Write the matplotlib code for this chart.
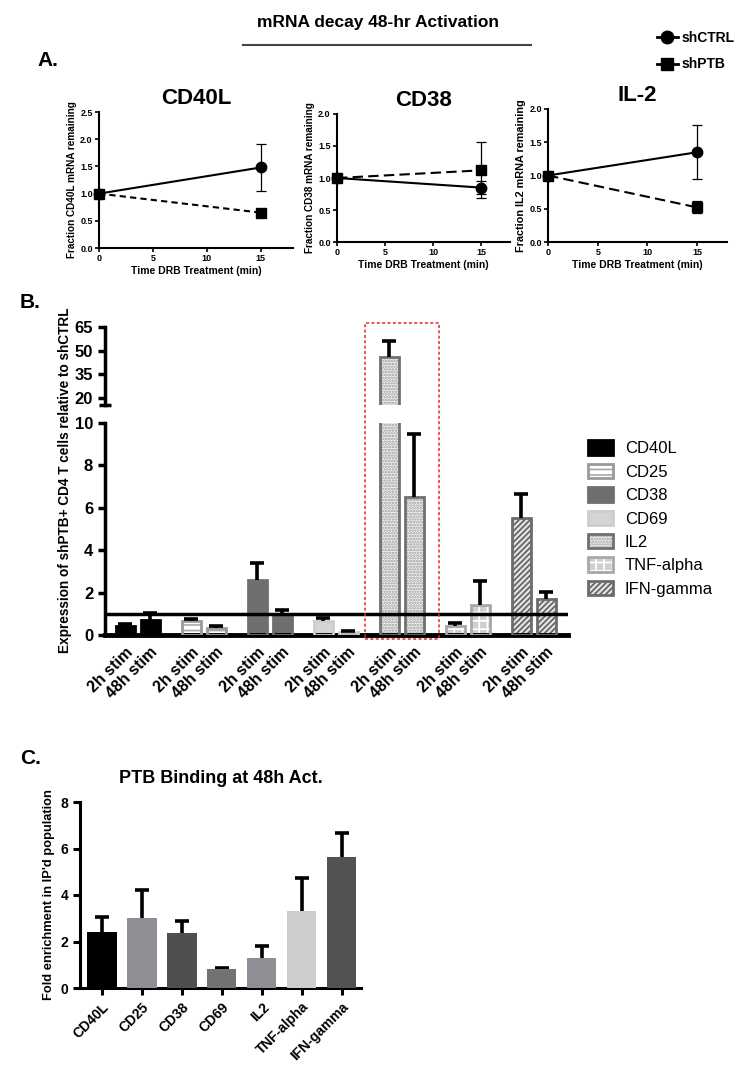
import matplotlib
matplotlib.use("Agg")
import matplotlib.pyplot as plt
from matplotlib.lines import Line2D
from matplotlib.patches import Patch, Rectangle
from matplotlib.transforms import blended_transform_factory

plt.rcParams['font.family'] = ['Liberation Sans', 'DejaVu Sans']
plt.rcParams['hatch.linewidth'] = 1.2

# ---- panel A data ----
a_time = [0, 15]
cd40l_ctrl = [1.0, 1.48]
cd40l_ctrl_err = [0.0, 0.43]
cd40l_ptb = [1.0, 0.65]
cd40l_ptb_err = [0.03, 0.06]
cd38_ctrl = [1.0, 0.85]
cd38_ctrl_err = [0.03, 0.10]
cd38_ptb = [1.0, 1.12]
cd38_ptb_err = [0.03, 0.44]
il2_ctrl = [1.0, 1.35]
il2_ctrl_err = [0.0, 0.41]
il2_ptb = [1.0, 0.52]
il2_ptb_err = [0.0, 0.09]

# ---- panel B data ----
genes = ["CD40L", "CD25", "CD38", "CD69", "IL2", "TNF-alpha", "IFN-gamma"]
stims = ["2h stim", "48h stim"]
expr_2h = [0.42, 0.66, 2.6, 0.66, 46.0, 0.42, 5.5]
expr_2h_err = [0.08, 0.09, 0.8, 0.14, 10.0, 0.15, 1.15]
expr_48h = [0.7, 0.33, 1.0, 0.15, 6.5, 1.42, 1.7]
expr_48h_err = [0.33, 0.09, 0.2, 0.05, 3.0, 1.13, 0.33]

# ---- panel C data ----
enrich = [2.42, 3.0, 2.36, 0.8, 1.3, 3.3, 5.65]
enrich_err = [0.65, 1.2, 0.52, 0.05, 0.5, 1.45, 1.03]
enrich_colors = ["#000000", "#8e8e93", "#4f4f4f", "#727272", "#8e8e95", "#cdcdcd", "#525252"]

# bar styles for B: face, hatch colour, hatch, edge
styles = [
    ("#000000", "#000000", None, "#000000"),
    ("#ffffff", "#a8a8a8", "---", "#9a9a9a"),
    ("#6f6f6f", "#6f6f6f", None, "#6f6f6f"),
    ("#d4d4d4", "#d4d4d4", None, "#cccccc"),
    ("#f2f2f2", "#9a9a9a", "......", "#707070"),
    ("#cfcfcf", "#ffffff", "++", "#a8a8a8"),
    ("#e2e2e2", "#606060", "//////", "#6c6c6c"),
]

W, H = 756, 1066


def box(x0, y0, x1, y1):
    return [x0 / W, 1 - y1 / H, (x1 - x0) / W, (y1 - y0) / H]


def up_errors(ax, xs, vals, errs, zorder):
    # only the upper half of the error bar, with a single cap
    c = ax.errorbar(xs, vals, yerr=[[0] * len(errs), errs], fmt="none", ecolor="k",
                    elinewidth=2.6, capsize=4.8, capthick=2.6, zorder=zorder)
    c[1][0].set_visible(False)
    return c


fig = plt.figure(figsize=(W / 100, H / 100), dpi=100)

# ================= Panel A =================
fig.text(378 / W, 1 - 22 / H, "mRNA decay 48-hr Activation", ha="center", va="center",
         fontsize=12.5, fontweight="bold")
fig.add_artist(Line2D([243 / W, 531 / W], [1 - 45 / H, 1 - 45 / H], color="#444444", lw=1.5))
fig.text(37 / W, 1 - 60 / H, "A.", ha="left", va="center", fontsize=15, fontweight="bold")

fig.legend(
    handles=[Line2D([], [], color="k", marker="o", ms=9, lw=2),
             Line2D([], [], color="k", marker="s", ms=8.5, lw=2)],
    labels=["shCTRL", "shPTB"], loc="upper left", bbox_to_anchor=(650 / W, 1 - 24 / H),
    frameon=False, handlelength=1.5, handletextpad=0.3, labelspacing=0.9,
    prop={"weight": "bold", "size": 10}, borderpad=0)


def decay(rect, ctrl, ctrl_err, ptb, ptb_err, title, ylabel, ymax, dash, ylab_size):
    ax = fig.add_axes(rect)
    c1 = ax.errorbar(a_time, ctrl, yerr=ctrl_err, color="k", marker="o", ms=7.5, lw=1.5,
                     elinewidth=0.9, capsize=3.5, capthick=0.9, zorder=3)
    c2 = ax.errorbar(a_time, ptb, yerr=ptb_err, color="k", marker="s", ms=7, lw=1.5,
                     ls=(0, dash), elinewidth=0.9, capsize=3.5, capthick=0.9, zorder=3)
    for c in (c1, c2):
        for art in c.get_children():
            art.set_clip_on(False)
    ax.set_xlim(0, 18)
    ax.set_ylim(0, ymax)
    ax.set_xticks([0, 5, 10, 15])
    yt = [i * 0.5 for i in range(int(ymax / 0.5) + 1)]
    ax.set_yticks(yt)
    ax.set_yticklabels([f"{v:.1f}" for v in yt])
    for lab in ax.get_xticklabels() + ax.get_yticklabels():
        lab.set_fontweight("bold")
        lab.set_fontsize(6.5)
    ax.tick_params(width=1.2, length=3, pad=1.5)
    for s in ("top", "right"):
        ax.spines[s].set_visible(False)
    for s in ("left", "bottom"):
        ax.spines[s].set_linewidth(1.5)
    ax.set_title(title, fontsize=16, fontweight="bold", pad=6)
    ax.set_xlabel("Time DRB Treatment (min)", fontsize=7.5, fontweight="bold", labelpad=2)
    ax.set_ylabel(ylabel, fontsize=ylab_size, fontweight="bold", labelpad=2)
    return ax


decay(box(99, 112, 293, 248), cd40l_ctrl, cd40l_ctrl_err, cd40l_ptb, cd40l_ptb_err,
      "CD40L", "Fraction CD40L mRNA remaining", 2.5, (3, 2), 7.2)
decay(box(337, 114, 510, 242), cd38_ctrl, cd38_ctrl_err, cd38_ptb, cd38_ptb_err,
      "CD38", "Fraction CD38 mRNA remaining", 2.0, (5, 2.5), 7.2)
decay(box(548, 109, 727, 242), il2_ctrl, il2_ctrl_err, il2_ptb, il2_ptb_err,
      "IL-2", "Fraction IL2 mRNA remaining", 2.0, (5, 2.5), 7.8)

# ================= Panel B =================
fig.text(20 / W, 1 - 303 / H, "B.", ha="left", va="center", fontsize=15, fontweight="bold")

ax_hi = fig.add_axes(box(105, 327, 568, 405))
ax_lo = fig.add_axes(box(105, 423, 568, 635))

pitch = 2.64
bw = 0.76
pos_2h = [g * pitch for g in range(len(genes))]
pos_48h = [g * pitch + 1 for g in range(len(genes))]

for ax in (ax_hi, ax_lo):
    for g in range(len(genes)):
        face, hcol, hatch, edge = styles[g]
        xs = [pos_2h[g], pos_48h[g]]
        vals = [expr_2h[g], expr_48h[g]]
        errs = [expr_2h_err[g], expr_48h_err[g]]
        ax.bar(xs, vals, width=bw, color=face, edgecolor=hcol, hatch=hatch, linewidth=0, zorder=2)
        ax.bar(xs, vals, width=bw, color="none", edgecolor=edge, linewidth=2, zorder=3)
        up_errors(ax, xs, vals, errs, 4)
    ax.set_xlim(-0.8, 17.72)
    for s in ("top", "right"):
        ax.spines[s].set_visible(False)
    ax.spines["left"].set_linewidth(2.5)
    ax.tick_params(axis="y", width=2.5, length=5, labelsize=12)
    for lab in ax.get_yticklabels():
        lab.set_fontweight("bold")

ax_hi.set_ylim(15.6, 65)
ax_hi.set_yticks([20, 35, 50, 65])
ax_hi.set_yticks([15.6], minor=True)
ax_hi.tick_params(axis="y", which="minor", direction="inout", length=9, width=2.5)
ax_hi.spines["bottom"].set_visible(False)
ax_hi.set_xticks([])
for lab in ax_hi.get_yticklabels():
    lab.set_fontweight("bold")

ax_lo.set_ylim(0, 10)
ax_lo.set_yticks([0, 2, 4, 6, 8, 10])
ax_lo.set_yticks([10], minor=True)
ax_lo.tick_params(axis="y", which="minor", direction="in", length=4, width=2.5)
ax_lo.spines["bottom"].set_linewidth(3.5)
ax_lo.axhline(1, color="k", lw=2.5, zorder=5)
ax_lo.set_xticks(sorted(pos_2h + pos_48h))
ax_lo.set_xticklabels([stims[i % 2] for i in range(2 * len(genes))], rotation=45, ha="right",
                      va="top", rotation_mode="anchor", fontsize=11.5, fontweight="bold")
ax_lo.tick_params(axis="x", length=0, pad=7)
for lab in ax_lo.get_yticklabels():
    lab.set_fontweight("bold")

fig.text(65 / W, 1 - 480 / H, "Expression of shPTB+ CD4 T cells relative to shCTRL",
         rotation=90, ha="center", va="center", fontsize=9.8, fontweight="bold")

# red dashed box around the IL2 group
il2_mid = (pos_2h[4] + pos_48h[4]) / 2
trans = blended_transform_factory(ax_lo.transData, fig.transFigure)
ax_lo.add_patch(Rectangle((il2_mid - 1.48, 1 - 639 / H), 2.96, (639 - 323) / H, transform=trans,
                          fill=False, edgecolor="#e8282e", linestyle=(0, (2, 1.5)), lw=1.1,
                          clip_on=False, zorder=6))

handles_b = []
for face, hcol, hatch, edge in styles:
    handles_b.append((Patch(facecolor=face, edgecolor=hcol, hatch=hatch, linewidth=0),
                      Patch(facecolor="none", edgecolor=edge, linewidth=2)))
fig.legend(handles=handles_b, labels=genes, loc="upper left", bbox_to_anchor=(580 / W, 1 - 432 / H),
           frameon=False, fontsize=12, handlelength=1.5, handleheight=0.95, labelspacing=0.45,
           handletextpad=0.7, borderpad=0)

# ================= Panel C =================
fig.text(20 / W, 1 - 758 / H, "C.", ha="left", va="center", fontsize=15, fontweight="bold")
ax_c = fig.add_axes(box(80, 802, 361, 988))
xc = list(range(len(genes)))
ax_c.bar(xc, enrich, width=0.73, color=enrich_colors, zorder=3)
up_errors(ax_c, xc, enrich, enrich_err, 2)
ax_c.set_xlim(-0.55, 6.48)
ax_c.set_ylim(0, 8)
ax_c.set_yticks([0, 2, 4, 6, 8])
ax_c.set_xticks(xc)
ax_c.set_xticklabels(genes, rotation=45, ha="right", va="top", rotation_mode="anchor")
for lab in ax_c.get_xticklabels() + ax_c.get_yticklabels():
    lab.set_fontweight("bold")
    lab.set_fontsize(10)
ax_c.tick_params(width=2.2, length=5)
for s in ("top", "right"):
    ax_c.spines[s].set_visible(False)
for s in ("left", "bottom"):
    ax_c.spines[s].set_linewidth(2.2)
ax_c.set_title("PTB Binding at 48h Act.", fontsize=13, fontweight="bold", pad=14)
ax_c.set_ylabel("Fold enrichment in IP'd population", fontsize=9.3, fontweight="bold", labelpad=4)

fig.savefig("out.png", dpi=100)
